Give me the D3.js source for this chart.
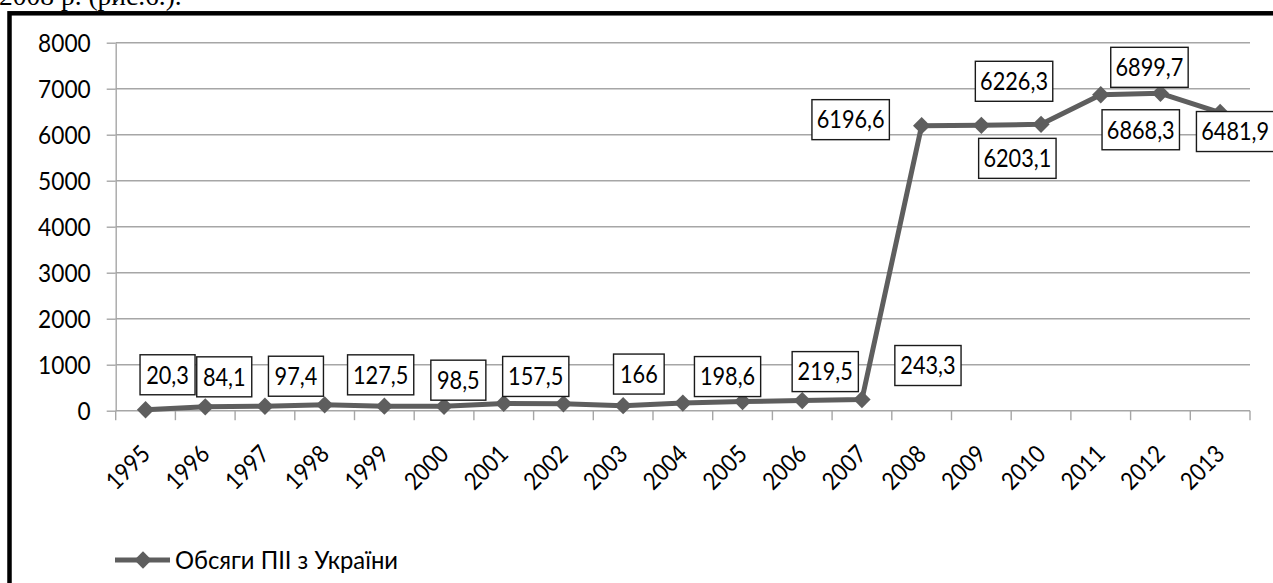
<!DOCTYPE html>
<html><head><meta charset="utf-8">
<script src="https://d3js.org/d3.v7.min.js"></script>
<style>body{margin:0;background:#fff;overflow:hidden} svg{display:block}</style>
</head><body>
<svg id="c" width="1273" height="583"></svg>
<script>
// ---- data ----
const years = ["1995","1996","1997","1998","1999","2000","2001","2002","2003","2004","2005","2006","2007","2008","2009","2010","2011","2012","2013"];
const values = [20.3, 84.1, 97.4, 127.5, 98.5, 95, 157.5, 150, 110, 166, 198.6, 219.5, 243.3, 6196.6, 6203.1, 6226.3, 6868.3, 6899.7, 6481.9];
const labelledYears = ["1995","1996","1997","1998","1999","2001","2004","2005","2006","2007","2008","2009","2010","2011","2012","2013"];
const yTicks = [0, 1000, 2000, 3000, 4000, 5000, 6000, 7000, 8000];
const seriesName = "Обсяги ПІІ з України";
const captionText = "2008 р. (рис.6.).";

// ---- layout (label nudges relative to their point, px) ----
const labelNudge = {
  "1995":[22,-35], "1996":[19,-30], "1997":[31,-30], "1998":[56,-30], "1999":[74,-26],
  "2001":[32,-27], "2004":[-44,-29], "2005":[-15,-25], "2006":[23,-29], "2007":[66,-34],
  "2008":[-71,-6], "2009":[36,33], "2010":[-27,-43], "2011":[40,35], "2012":[-11,-26], "2013":[15,19]
};

const FONT = "Lato, 'Open Sans', 'Noto Sans', sans-serif";
const FS = 24.4;
const SQUEEZE = 0.89;
const GRID = "#a6a6a6";
const LINE = "#5e5e5e";
const plotL = 115.7, plotR = 1250, plotT = 42.7, plotB = 410.7;

const svg = d3.select("#c");
svg.append("rect").attr("width",1273).attr("height",583).attr("fill","#fff");

function squeeze(sel, f){
  sel.each(function(){
    const w = this.getComputedTextLength();
    this.setAttribute("textLength", w*(f||SQUEEZE));
    this.setAttribute("lengthAdjust","spacingAndGlyphs");
  });
}

// caption above the frame (cropped)
svg.append("text").attr("x",-1).attr("y",5)
  .attr("font-family","'Liberation Serif','Times New Roman',serif").attr("font-size",27.5)
  .attr("fill","#000").text(captionText);

// frame
svg.append("rect").attr("x",9.5).attr("y",13.3).attr("width",1400).attr("height",700)
  .attr("fill","#fff").attr("stroke","#000").attr("stroke-width",4.5);

const x = d3.scaleBand().domain(years).range([plotL,plotR]).padding(0);
const bw = x.bandwidth();
const y = d3.scaleLinear().domain([0,8000]).range([plotB,plotT]);
const cx = d => x(d) + bw/2;

// gridlines
svg.append("g").selectAll("line").data(yTicks).join("line")
  .attr("x1",plotL).attr("x2",plotR).attr("y1",d=>y(d)).attr("y2",d=>y(d))
  .attr("stroke",GRID).attr("stroke-width",1.4);

// y axis
const yAxis = svg.append("g").attr("transform",`translate(${plotL},0)`)
  .call(d3.axisLeft(y).tickValues(yTicks).tickFormat(d3.format("d"))
        .tickSize(9).tickSizeOuter(0).tickPadding(16));
yAxis.select(".domain").attr("stroke",GRID).attr("stroke-width",1.4);
yAxis.selectAll(".tick line").attr("stroke",GRID).attr("stroke-width",1.4);
yAxis.selectAll(".tick text").attr("font-family",FONT).attr("font-size",FS).attr("fill","#000")
  .attr("dy","0.36em").call(squeeze, 0.93);

// x axis ticks at band boundaries
const bounds = years.map(d=>x(d)).concat([x(years[years.length-1])+bw]);
svg.append("g").selectAll("line").data(bounds).join("line")
  .attr("x1",d=>d).attr("x2",d=>d).attr("y1",plotB).attr("y2",plotB+9.5)
  .attr("stroke",GRID).attr("stroke-width",1.4);
svg.append("g").selectAll("text").data(years).join("text")
  .attr("transform",d=>`translate(${cx(d)+6},${plotB+45}) rotate(-45)`)
  .attr("text-anchor","end").attr("font-family",FONT).attr("font-size",FS).attr("fill","#000")
  .text(d=>d).call(squeeze);

// series
const pts = years.map((d,i)=>({year:d, value:values[i]}));
svg.append("path").datum(pts)
  .attr("d", d3.line().x(d=>cx(d.year)).y(d=>y(d.value)))
  .attr("fill","none").attr("stroke",LINE).attr("stroke-width",5).attr("stroke-linejoin","round");
const diamond = d3.symbol(d3.symbolSquare, 150);
svg.append("g").selectAll("path").data(pts).join("path")
  .attr("d",diamond).attr("transform",d=>`translate(${cx(d.year)},${y(d.value)}) rotate(45)`)
  .attr("fill",LINE);

// data labels
const fmt = v => String(v).replace(".", ",");
const lg = svg.append("g");
labelledYears.forEach(yr => {
  const i = years.indexOf(yr);
  const v = values[i];
  const n = labelNudge[yr];
  const px = cx(yr) + n[0], py = y(v) + n[1];
  const g = lg.append("g");
  const r = g.append("rect");
  const t = g.append("text").attr("x",px).attr("y",py+8.8).attr("text-anchor","middle")
    .attr("font-family",FONT).attr("font-size",FS).attr("fill","#000").text(fmt(v));
  t.call(squeeze);
  const w = t.node().getComputedTextLength()*SQUEEZE + 17;
  r.attr("x",px-w/2).attr("y",py-20).attr("width",w).attr("height",40)
   .attr("fill","#fff").attr("stroke","#1a1a1a").attr("stroke-width",1.4);
});

// legend
const leg = svg.append("g");
leg.append("line").attr("x1",115).attr("x2",170).attr("y1",560).attr("y2",560)
  .attr("stroke",LINE).attr("stroke-width",5);
leg.append("path").attr("d",diamond).attr("transform","translate(143,560) rotate(45)").attr("fill",LINE);
const legText = leg.append("text").attr("x",175).attr("y",568.5).attr("font-family",FONT).attr("font-size",FS)
  .attr("fill","#000").text(seriesName);
legText.attr("textLength",223).attr("lengthAdjust","spacingAndGlyphs");
</script>
</body></html>
